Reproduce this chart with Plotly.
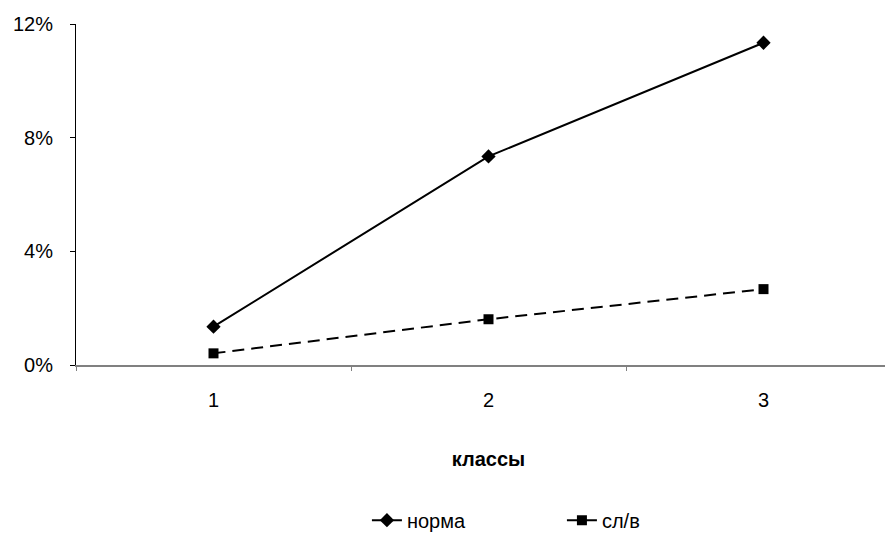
import plotly.graph_objects as go

categories = [1, 2, 3]
norma = [0.0135, 0.0734, 0.1134]
slv = [0.0041, 0.0161, 0.0267]
y_ticks = [0, 0.04, 0.08, 0.12]
y_tick_labels = ["0%", "4%", "8%", "12%"]

FONT = "Liberation Sans, Arial, sans-serif"

fig = go.Figure()
fig.add_trace(go.Scatter(
    x=categories, y=norma, name="норма", mode="lines+markers",
    line=dict(color="black", width=2),
    marker=dict(symbol="diamond", size=11, color="black"),
))
fig.add_trace(go.Scatter(
    x=categories, y=slv, name="сл/в", mode="lines+markers",
    line=dict(color="black", width=2, dash="12px,7px"),
    marker=dict(symbol="square", size=10, color="black"),
))

fig.update_layout(
    width=893, height=539,
    margin=dict(l=68, r=0, t=16, b=182, autoexpand=False),
    plot_bgcolor="white", paper_bgcolor="white",
    font=dict(family=FONT, size=20, color="black"),
    showlegend=True,
    legend=dict(orientation="h", x=0.589, xanchor="center", y=-0.455, yanchor="middle",
                font=dict(size=20), entrywidth=150, tracegroupgap=0),
    xaxis=dict(
        range=[0.5, 3.5], tickvals=categories, ticktext=[str(c) for c in categories],
        ticks="", showgrid=False, zeroline=False, automargin=False,
        showline=True, linecolor="#808080", linewidth=2,
        ticklabelstandoff=16,
        minor=dict(ticks="outside", tick0=0.5, dtick=1, ticklen=4, tickcolor="#808080", showgrid=False),
        title=dict(text="<b>классы</b>", font=dict(size=20), standoff=42),
    ),
    yaxis=dict(
        range=[0, 0.12], tickvals=y_ticks, ticktext=y_tick_labels,
        ticks="outside", ticklen=5, tickcolor="black", automargin=False,
        showgrid=False, zeroline=False,
        showline=True, linecolor="black", linewidth=1,
        ticklabelstandoff=13,
    ),
)

fig.write_html("out.html")
